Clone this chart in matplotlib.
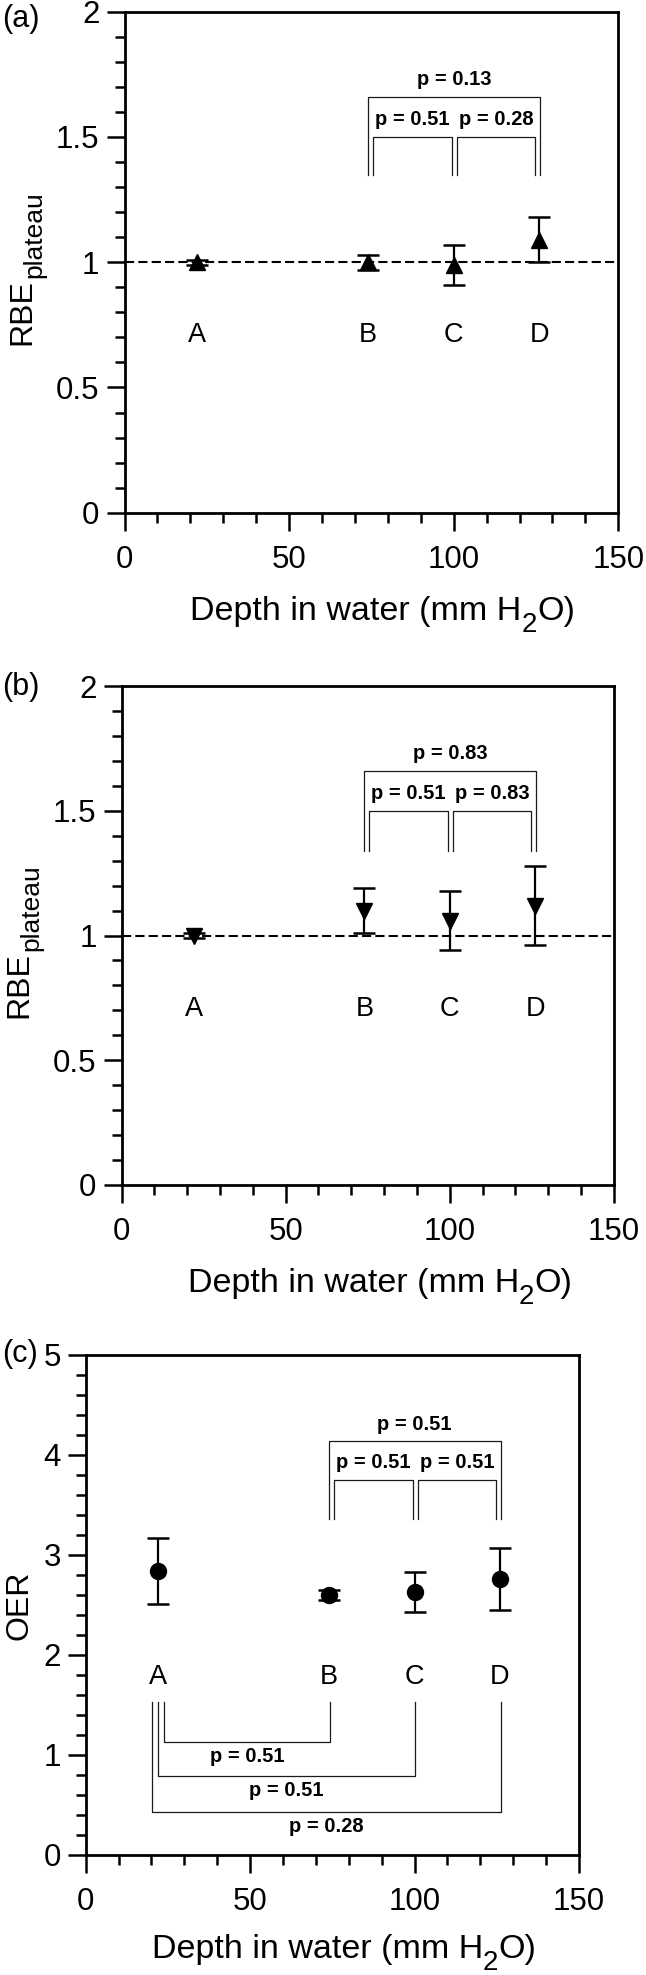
import numpy as np
import matplotlib.pyplot as plt
from matplotlib.ticker import MultipleLocator, FuncFormatter

plt.rcParams['font.family'] = ['Liberation Sans', 'DejaVu Sans']

# data
groups = ['A', 'B', 'C', 'D']
depth = [22, 74, 100, 126]

rbe_a = [1.00, 1.00, 0.99, 1.09]
rbe_a_err = [0.01, 0.03, 0.08, 0.09]

rbe_b = [1.00, 1.10, 1.06, 1.12]
rbe_b_err = [0.01, 0.09, 0.12, 0.16]

oer = [2.84, 2.60, 2.63, 2.76]
oer_err = [0.33, 0.05, 0.20, 0.31]

# p-values: B-C, C-D, B-D
p_a = ['0.51', '0.28', '0.13']
p_b = ['0.51', '0.83', '0.83']
p_c = ['0.51', '0.51', '0.51']
# p-values: A-B, A-C, A-D
p_c_low = ['0.51', '0.51', '0.28']

W, H = 646, 1975
fig = plt.figure(figsize=(W / 100, H / 100), dpi=100)
renderer = fig.canvas.get_renderer()


def rect(l, t, r, b):
    return [l / W, 1 - b / H, (r - l) / W, (b - t) / H]


ax_a = fig.add_axes(rect(124.5, 11.7, 618.3, 512.7))
ax_b = fig.add_axes(rect(121.5, 686, 613.9, 1185))
ax_c = fig.add_axes(rect(85.7, 1355, 578.9, 1855))


def style(ax, ymax, ymaj, ymin):
    ax.set_xlim(0, 150)
    ax.set_ylim(0, ymax)
    ax.xaxis.set_major_locator(MultipleLocator(50))
    ax.xaxis.set_minor_locator(MultipleLocator(10))
    ax.yaxis.set_major_locator(MultipleLocator(ymaj))
    ax.yaxis.set_minor_locator(MultipleLocator(ymin))
    ax.yaxis.set_major_formatter(FuncFormatter(lambda v, p: f'{v:g}'))
    for s in ax.spines.values():
        s.set_linewidth(2)
    ax.tick_params(which='major', length=13, width=1.8, labelsize=22.5)
    ax.tick_params(which='minor', length=7, width=1.8)
    ax.tick_params(axis='x', which='major', pad=10)
    ax.tick_params(axis='y', which='major', pad=5)


def points(ax, vals, errs, marker):
    ax.errorbar(depth, vals, yerr=errs, fmt=marker, ms=11.5, color='black',
                ecolor='black', elinewidth=1.6, capsize=8, capthick=1.8, zorder=3)


def labels(ax, y):
    for x, g in zip(depth, groups):
        ax.text(x, y, g, ha='center', va='center', fontsize=19.5)


def bracket_up(ax, x1, x2, ytop, yfoot, txt, ytxt):
    ax.plot([x1, x1, x2, x2], [yfoot, ytop, ytop, yfoot], color='#1a1a1a', lw=0.9)
    ax.text((x1 + x2) / 2, ytxt, 'p = ' + txt, ha='center', va='center',
            fontsize=14.5, fontweight='bold')


def top_brackets(ax, pv, y_in, y_out, y_foot, dy_txt):
    bracket_up(ax, depth[1] + 1.5, depth[2] - 0.5, y_in, y_foot, pv[0], y_in + dy_txt)
    bracket_up(ax, depth[2] + 1.1, depth[3] - 1.3, y_in, y_foot, pv[1], y_in + dy_txt)
    bracket_up(ax, depth[1] - 0.1, depth[3] + 0.2, y_out, y_foot, pv[2], y_out + dy_txt)


def xlabel(ax, drop):
    bb = ax.get_position()
    x0 = bb.x0 * W + 66
    y0 = bb.y0 * H - drop
    t1 = fig.text(x0 / W, y0 / H, 'Depth in water (mm H', fontsize=24.5)
    w1 = t1.get_window_extent(renderer).width
    t2 = fig.text((x0 + w1) / W, (y0 - 12) / H, '2', fontsize=20)
    w2 = t2.get_window_extent(renderer).width
    fig.text((x0 + w1 + w2) / W, y0 / H, 'O)', fontsize=24.5)


def rbe_label(xb, yb):
    t = fig.text(xb / W, 1 - yb / H, 'RBE', rotation=90, rotation_mode='anchor',
                 ha='left', va='baseline', fontsize=23)
    h = t.get_window_extent(renderer).height
    fig.text((xb + 11) / W, 1 - (yb - h - 1) / H, 'plateau', rotation=90,
             rotation_mode='anchor', ha='left', va='baseline', fontsize=19)


# panel (a)
style(ax_a, 2, 0.5, 0.1)
ax_a.axhline(1, color='black', lw=1.5, dashes=(4.4, 2), zorder=2)
points(ax_a, rbe_a, rbe_a_err, '^')
labels(ax_a, 0.71)
top_brackets(ax_a, p_a, 1.50, 1.66, 1.35, 0.07)
xlabel(ax_a, 107)
rbe_label(30, 345)
fig.text(2 / W, 1 - 27 / H, '(a)', fontsize=22)

# panel (b)
style(ax_b, 2, 0.5, 0.1)
ax_b.axhline(1, color='black', lw=1.5, dashes=(4.4, 2), zorder=2)
points(ax_b, rbe_b, rbe_b_err, 'v')
labels(ax_b, 0.705)
top_brackets(ax_b, p_b, 1.50, 1.66, 1.34, 0.07)
xlabel(ax_b, 107)
rbe_label(27, 1018)
fig.text(2 / W, 1 - 695 / H, '(b)', fontsize=22)

# panel (c)
style(ax_c, 5, 1, 0.2)
points(ax_c, oer, oer_err, 'o')
labels(ax_c, 1.78)
top_brackets(ax_c, p_c, 3.75, 4.14, 3.36, 0.17)
low = [(depth[0] + 1.8, depth[1] + 0.4, 1.13, p_c_low[0]),
       (depth[0] - 0.1, depth[2] + 0.2, 0.79, p_c_low[1]),
       (depth[0] - 1.7, depth[3] + 0.3, 0.43, p_c_low[2])]
for x1, x2, ybar, pv in low:
    bracket_up(ax_c, x1, x2, ybar, 1.53, pv, ybar - 0.15)
xlabel(ax_c, 103)
fig.text(28 / W, 1 - 1605 / H, 'OER', rotation=90, rotation_mode='anchor',
         ha='center', va='baseline', fontsize=23)
fig.text(2 / W, 1 - 1362 / H, '(c)', fontsize=22)

fig.savefig('out.png', dpi=100)
